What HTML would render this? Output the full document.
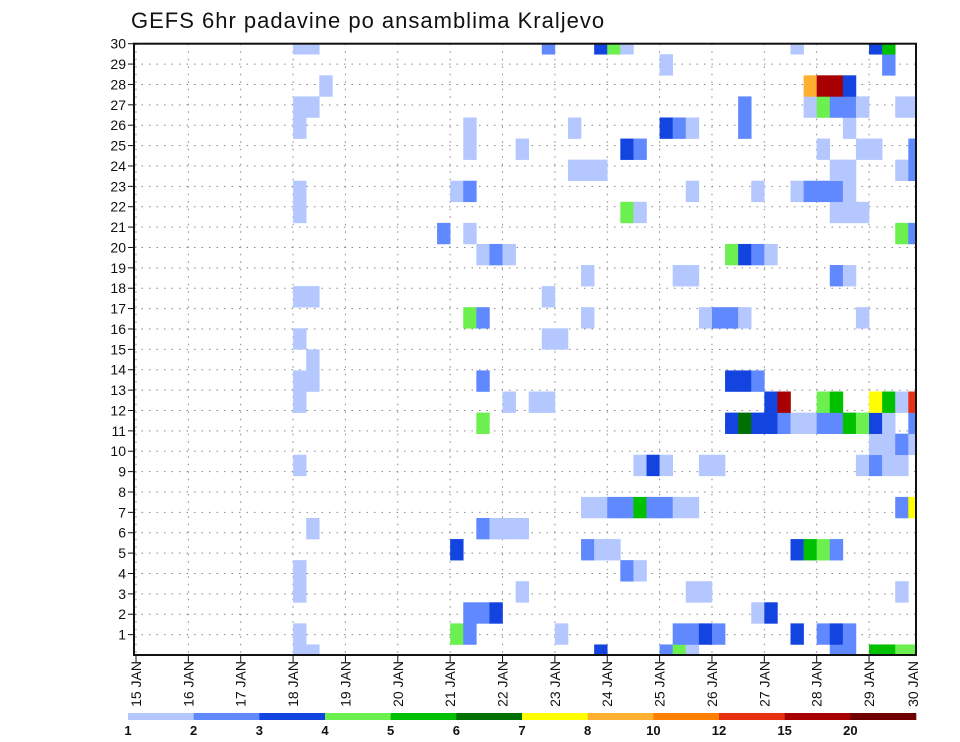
<!DOCTYPE html>
<html><head><meta charset="utf-8"><style>
html,body{margin:0;padding:0;background:#fff;}
svg{display:block;font-family:"Liberation Sans","DejaVu Sans",sans-serif;}
</style></head><body>
<svg id="chart" width="960" height="742" viewBox="0 0 960 742" xmlns="http://www.w3.org/2000/svg">
<defs><clipPath id="plotclip"><rect x="134" y="43.7" width="782" height="611.3"/></clipPath></defs>
<text x="131" y="28" font-size="22" fill="#111" letter-spacing="1">GEFS 6hr padavine po ansamblima Kraljevo</text>
<g id="grid"></g>
<g id="cells" clip-path="url(#plotclip)"></g>
<g id="axes"></g>
<g id="legend"></g>
</svg>
<script>
// categories: day labels on x axis
const dayLabels = ["15 JAN","16 JAN","17 JAN","18 JAN","19 JAN","20 JAN","21 JAN","22 JAN","23 JAN","24 JAN","25 JAN","26 JAN","27 JAN","28 JAN","29 JAN","30 JAN"];
const memberTicks = [1,2,3,4,5,6,7,8,9,10,11,12,13,14,15,16,17,18,19,20,21,22,23,24,25,26,27,28,29,30];
const levelLabels = ["1","2","3","4","5","6","7","8","10","12","15","20"];
const levelColors = ["#b4c8ff","#6088ff","#1444e0","#6cf050","#00c000","#007000","#ffff00","#ffb030","#ff8000","#e83010","#a80000","#700000"];
const levelCodes = "123456789ab";
// member rows (k = 0 bottom .. 29 top), 15 days x 4 six-hour steps; '.' = none, 1..b = colour class
const members = [
"....|....|....|11..|....|....|....|....|...3|....|241.|....|....|.22.|5544",
"....|....|....|1...|....|....|42..|....|1...|....|.223|2...|..3.|232.|....",
"....|....|....|....|....|....|.223|....|....|....|....|...1|3...|....|....",
"....|....|....|1...|....|....|....|.1..|....|....|..11|....|....|....|..1.",
"....|....|....|1...|....|....|....|....|....|.21.|....|....|....|....|....",
"....|....|....|....|....|....|3...|....|..21|1...|....|....|..35|42..|....",
"....|....|....|.1..|....|....|..21|11..|....|....|....|....|....|....|....",
"....|....|....|....|....|....|....|....|..11|2252|211.|....|....|....|..27",
"....|....|....|....|....|....|....|....|....|....|....|....|....|....|....",
"....|....|....|1...|....|....|....|....|....|..13|1..1|1...|....|...1|211.",
"....|....|....|....|....|....|....|....|....|....|....|....|....|....|1121",
"....|....|....|....|....|....|..4.|....|....|....|....|.363|3211|2254|31.2",
"....|....|....|1...|....|....|....|1.11|....|....|....|....|3b..|45..|751a",
"....|....|....|11..|....|....|..2.|....|....|....|....|.332|....|....|....",
"....|....|....|.1..|....|....|....|....|....|....|....|....|....|....|....",
"....|....|....|1...|....|....|....|...1|1...|....|....|....|....|....|....",
"....|....|....|....|....|....|.42.|....|..1.|....|...1|221.|....|...1|....",
"....|....|....|11..|....|....|....|...1|....|....|....|....|....|....|....",
"....|....|....|....|....|....|....|....|..1.|....|.11.|....|....|.21.|....",
"....|....|....|....|....|....|..12|1...|....|....|....|.432|1...|....|....",
"....|....|....|....|....|...2|.1..|....|....|....|....|....|....|....|..42",
"....|....|....|1...|....|....|....|....|....|.41.|....|....|....|.111|....",
"....|....|....|1...|....|....|12..|....|....|....|..1.|...1|..12|221.|....",
"....|....|....|....|....|....|....|....|.111|....|....|....|....|.11.|..12",
"....|....|....|....|....|....|.1..|.1..|....|.32.|....|....|....|1..1|1..2",
"....|....|....|1...|....|....|.1..|....|.1..|....|321.|..2.|....|..1.|....",
"....|....|....|11..|....|....|....|....|....|....|....|..2.|...1|4221|..11",
"....|....|....|..1.|....|....|....|....|....|....|....|....|...8|bb3.|....",
"....|....|....|....|....|....|....|....|....|....|1...|....|....|....|.2..",
"....|....|....|11..|....|....|....|...2|...3|41..|....|....|..1.|....|35.."
];

const NS="http://www.w3.org/2000/svg";
const PX0=134, PX1=916, PY0=43.7, PY1=655;
const DAY0X=136, DAYW=52.36, STEPW=DAYW/4;
const NMEM=30;
function xStep(s){return DAY0X + s*STEPW;}
function xDay(d){return DAY0X + d*DAYW;}
function yTick(r){return PY1 - r*(PY1-PY0)/30;}
function yMember(k){return PY1 - k*(PY1-PY0)/(NMEM-1);}
const memH=(PY1-PY0)/(NMEM-1);
function mk(tag,attrs,parent){const e=document.createElementNS(NS,tag);for(const k in attrs)e.setAttribute(k,attrs[k]);parent.appendChild(e);return e;}

const grid=document.getElementById('grid');
for(const r of memberTicks){
  if(r===30)continue;
  const l=mk('line',{x1:PX0,x2:PX1,y1:yTick(r),y2:yTick(r),stroke:'#888','stroke-width':1,'stroke-dasharray':'1.5,6'},grid);
  
  
}
for(let d=0;d<15;d++){
  const l=mk('line',{x1:xDay(d),x2:xDay(d),y1:PY0,y2:PY1,stroke:'#888','stroke-width':1,'stroke-dasharray':'1.5,6'},grid);
  
  
}

const cells=document.getElementById('cells');
members.forEach((row,k)=>{
  const s=row.replace(/\|/g,'');
  for(let c=0;c<s.length;c++){
    const ch=s[c]; if(ch==='.')continue;
    const lv=levelCodes.indexOf(ch);
    const r=mk('rect',{x:xStep(c),y:yMember(k)-memH/2,width:STEPW+0.3,height:memH+0.3,fill:levelColors[lv]},cells);
    
    
  }
});

const axes=document.getElementById('axes');
const frame=mk('rect',{x:PX0,y:PY0,width:PX1-PX0,height:PY1-PY0,fill:'none',stroke:'#111','stroke-width':2},axes);


for(const r of memberTicks){
  const t=mk('line',{x1:PX0-6,x2:PX0,y1:yTick(r),y2:yTick(r),stroke:'#111','stroke-width':1},axes);
  
  
  const lab=mk('text',{x:PX0-8,y:yTick(r)+5,'font-size':14,'text-anchor':'end',fill:'#111'},axes);
  lab.textContent=r;
  
  
}
dayLabels.forEach((lbl,d)=>{
  const x = d<15 ? xDay(d) : 913;
  if(d<15){
    const t=mk('line',{x1:x,x2:x,y1:PY1,y2:PY1+7,stroke:'#111','stroke-width':1},axes);
    
    
  }
  const tx=mk('text',{x:0,y:0,'font-size':14,'text-anchor':'end',fill:'#111',transform:`translate(${x+5},${PY1+6}) rotate(-90)`},axes);
  tx.textContent=lbl;
  
  
});

const legend=document.getElementById('legend');
const LX0=128, LX1=916, segW=(LX1-LX0)/levelColors.length;
levelColors.forEach((col,i)=>{
  const r=mk('rect',{x:LX0+i*segW,y:713,width:segW+0.3,height:7,fill:col},legend);
  
  
});
levelLabels.forEach((lbl,i)=>{
  const t=mk('text',{x:LX0+i*segW,y:735,'font-size':13,'font-weight':'bold','text-anchor':'middle',fill:'#111'},legend);
  t.textContent=lbl;
  
  
});
</script>
</body></html>
